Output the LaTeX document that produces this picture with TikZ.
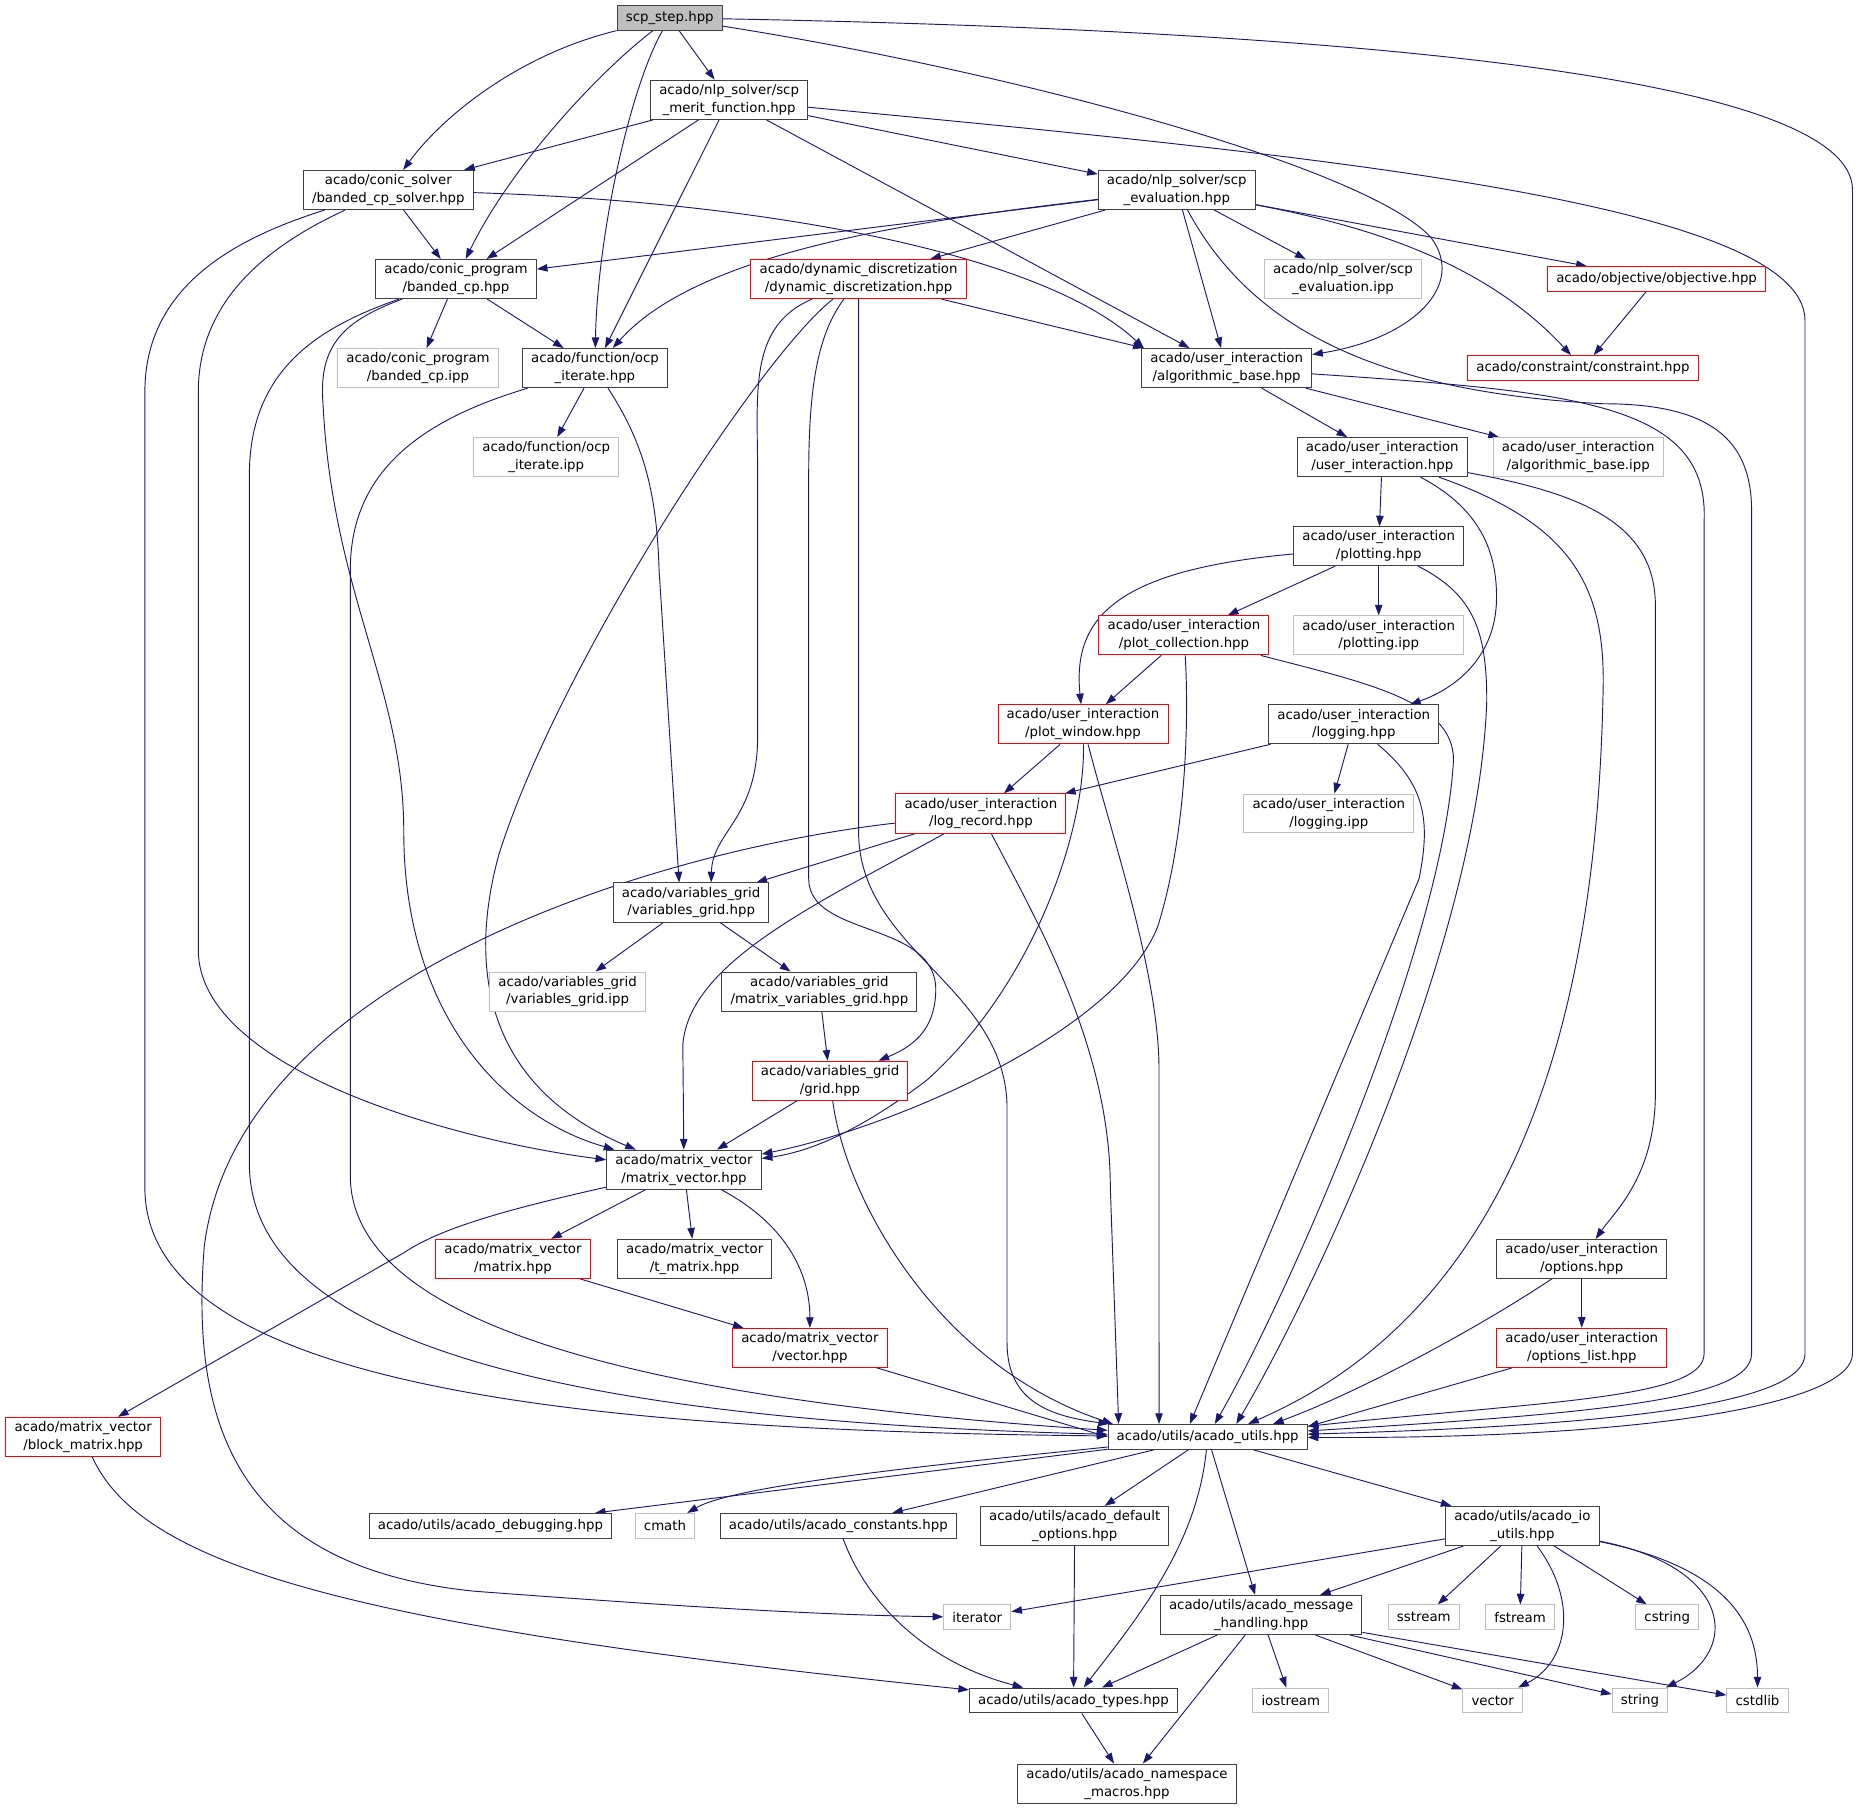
\documentclass[tikz,border=0pt]{standalone}
\usepackage{fontspec}
\setmainfont{DejaVu Sans}
\usetikzlibrary{arrows.meta}
\definecolor{edgeblue}{HTML}{191970}
\definecolor{boxdark}{HTML}{404040}
\definecolor{boxred}{HTML}{FF0000}
\definecolor{boxgrey}{HTML}{BFBFBF}
\pgfdeclarelayer{edges}
\pgfsetlayers{edges,main}

\begin{document}
\begin{tikzpicture}[x=0.890625pt, y=-0.890625pt,
  font=\fontsize{10}{13.4}\selectfont,
  hdr/.style={draw=boxdark, fill=white, line width=0.75pt, align=center,
    inner xsep=6.5pt, inner ysep=3pt, minimum height=18.7pt},
  hdrred/.style={hdr, draw=boxred},
  hdrgrey/.style={hdr, draw=boxgrey},
  hdrroot/.style={hdr, fill=boxgrey},
  dep/.style={draw=edgeblue, line width=0.7pt, -{Triangle[length=8pt, width=5.6pt]}}]
  \useasboundingbox (0,0) rectangle (1568,1523);
  \node[hdrroot] (step) at (564,15) {scp\_step.hpp};
  \node[hdr] (merit) at (614,84) {acado/nlp\_solver/scp\\\_merit\_function.hpp};
  \node[hdr] (cpsolver) at (327,160) {acado/conic\_solver\\/banded\_cp\_solver.hpp};
  \node[hdr] (eval) at (991,160) {acado/nlp\_solver/scp\\\_evaluation.hpp};
  \node[hdr] (bcp) at (384,235) {acado/conic\_program\\/banded\_cp.hpp};
  \node[hdrred] (dyndisc) at (723,235) {acado/dynamic\_discretization\\/dynamic\_discretization.hpp};
  \node[hdrgrey] (evalipp) at (1131,235) {acado/nlp\_solver/scp\\\_evaluation.ipp};
  \node[hdrred] (objective) at (1395,235) {acado/objective/objective.hpp};
  \node[hdrgrey] (bcpipp) at (352,310) {acado/conic\_program\\/banded\_cp.ipp};
  \node[hdr] (ocpit) at (501,310) {acado/function/ocp\\\_iterate.hpp};
  \node[hdr] (algbase) at (1033,310) {acado/user\_interaction\\/algorithmic\_base.hpp};
  \node[hdrred] (constraint) at (1333,310) {acado/constraint/constraint.hpp};
  \node[hdrgrey] (ocpitipp) at (460,385) {acado/function/ocp\\\_iterate.ipp};
  \node[hdr] (userint) at (1164,385) {acado/user\_interaction\\/user\_interaction.hpp};
  \node[hdrgrey] (algbaseipp) at (1329,385) {acado/user\_interaction\\/algorithmic\_base.ipp};
  \node[hdr] (plotting) at (1161,460) {acado/user\_interaction\\/plotting.hpp};
  \node[hdrred] (plotcoll) at (997,535) {acado/user\_interaction\\/plot\_collection.hpp};
  \node[hdrgrey] (plottingipp) at (1161,535) {acado/user\_interaction\\/plotting.ipp};
  \node[hdrred] (plotwin) at (912,610) {acado/user\_interaction\\/plot\_window.hpp};
  \node[hdr] (logging) at (1140,610) {acado/user\_interaction\\/logging.hpp};
  \node[hdrred] (logrec) at (826,685) {acado/user\_interaction\\/log\_record.hpp};
  \node[hdrgrey] (loggingipp) at (1119,685) {acado/user\_interaction\\/logging.ipp};
  \node[hdr] (vgrid) at (582,760) {acado/variables\_grid\\/variables\_grid.hpp};
  \node[hdrgrey] (vgridipp) at (478,835) {acado/variables\_grid\\/variables\_grid.ipp};
  \node[hdr] (mvgrid) at (690,835) {acado/variables\_grid\\/matrix\_variables\_grid.hpp};
  \node[hdrred] (grid) at (699,910) {acado/variables\_grid\\/grid.hpp};
  \node[hdr] (mvec) at (576,985) {acado/matrix\_vector\\/matrix\_vector.hpp};
  \node[hdrred] (matrix) at (432,1060) {acado/matrix\_vector\\/matrix.hpp};
  \node[hdr] (tmatrix) at (585,1060) {acado/matrix\_vector\\/t\_matrix.hpp};
  \node[hdr] (options) at (1332,1060) {acado/user\_interaction\\/options.hpp};
  \node[hdrred] (vector) at (682,1135) {acado/matrix\_vector\\/vector.hpp};
  \node[hdrred] (optlist) at (1332,1135) {acado/user\_interaction\\/options\_list.hpp};
  \node[hdrred] (blockmat) at (70,1210) {acado/matrix\_vector\\/block\_matrix.hpp};
  \node[hdr] (utils) at (1017,1210) {acado/utils/acado\_utils.hpp};
  \node[hdr] (debugging) at (413,1285) {acado/utils/acado\_debugging.hpp};
  \node[hdrgrey] (cmath) at (560,1285) {cmath};
  \node[hdr] (constants) at (706,1285) {acado/utils/acado\_constants.hpp};
  \node[hdr] (defopts) at (905,1285) {acado/utils/acado\_default\\\_options.hpp};
  \node[hdr] (ioutils) at (1282,1285) {acado/utils/acado\_io\\\_utils.hpp};
  \node[hdrgrey] (iterator) at (823,1362) {iterator};
  \node[hdr] (msghandle) at (1062,1360) {acado/utils/acado\_message\\\_handling.hpp};
  \node[hdrgrey] (sstream) at (1199,1362) {sstream};
  \node[hdrgrey] (fstream) at (1280,1362) {fstream};
  \node[hdrgrey] (cstring) at (1404,1362) {cstring};
  \node[hdr] (types) at (904,1432) {acado/utils/acado\_types.hpp};
  \node[hdrgrey] (iostream) at (1087,1432) {iostream};
  \node[hdrgrey] (stdvector) at (1257,1432) {vector};
  \node[hdrgrey] (stdstring) at (1381,1432) {string};
  \node[hdrgrey] (cstdlib) at (1480,1432) {cstdlib};
  \node[hdr] (nsmacros) at (949,1502) {acado/utils/acado\_namespace\\\_macros.hpp};
  \begin{pgfonlayer}{edges}
  \foreach \a/\b in {step/merit, merit/cpsolver, merit/bcp, merit/ocpit, merit/eval,
    merit/algbase, cpsolver/bcp, eval/bcp, eval/dyndisc, eval/evalipp, eval/objective,
    eval/algbase, bcp/bcpipp, bcp/ocpit, dyndisc/algbase, objective/constraint,
    ocpit/ocpitipp, algbase/userint, algbase/algbaseipp, userint/plotting,
    plotting/plotcoll, plotting/plottingipp, plotcoll/plotwin, plotwin/logrec,
    logging/logrec, logging/loggingipp, logrec/vgrid, vgrid/vgridipp, vgrid/mvgrid,
    mvgrid/grid, grid/mvec, mvec/matrix, mvec/tmatrix, matrix/vector, options/optlist,
    utils/debugging, utils/constants, utils/defopts, utils/ioutils, utils/msghandle,
    defopts/types, ioutils/iterator, ioutils/msghandle, ioutils/sstream, ioutils/fstream,
    ioutils/cstring, msghandle/types, msghandle/iostream, msghandle/stdvector,
    msghandle/stdstring, msghandle/cstdlib, msghandle/nsmacros, types/nsmacros}{%
    \draw[dep] (\a) -- (\b);}
  \draw[dep] (vector) -- (utils.west);
  \draw[dep] (options) .. controls (1250,1115) and (1150,1170) .. ([xshift=49pt]utils.north);
  \draw[dep] (optlist) -- ([yshift=-2pt]utils.north east);
  \draw[dep] (step) .. controls (440,45) and (375,95) .. (cpsolver);
  \draw[dep] (step) .. controls (505,60) and (430,140) .. (bcp);
  \draw[dep] (step) .. controls (530,75) and (503,200) .. (ocpit);
  \draw[dep] (step) .. controls (850,60) and (1150,140) .. (1205,200)
    .. controls (1235,240) and (1190,285) .. (algbase);
  \draw[dep] (step) .. controls (1100,25) and (1560,60) .. (1560,160)
    -- (1560,1140) .. controls (1560,1180) and (1400,1212) .. (utils);
  \draw[dep] (merit) .. controls (1100,130) and (1520,170) .. (1520,270)
    -- (1520,1140) .. controls (1520,1180) and (1380,1200) .. (utils);
  \draw[dep] (cpsolver) .. controls (650,170) and (880,215) .. ([xshift=2pt]algbase.north west);
  \draw[dep] (cpsolver) .. controls (230,205) and (167,250) .. (167,330)
    -- (167,800) .. controls (167,900) and (380,960) .. (mvec);
  \draw[dep] (cpsolver) .. controls (200,200) and (122,240) .. (122,330)
    -- (122,1000) .. controls (122,1170) and (500,1205) .. (utils);
  \draw[dep] (eval) .. controls (780,185) and (590,210) .. (ocpit);
  \draw[dep] (eval) .. controls (1150,190) and (1250,220) .. (constraint);
  \draw[dep] (eval) .. controls (1050,270) and (1150,330) .. (1350,340)
    .. controls (1440,340) and (1475,370) .. (1475,430)
    -- (1475,1140) .. controls (1475,1178) and (1350,1190) .. (utils);
  \draw[dep] (bcp) .. controls (290,270) and (268,290) .. (272,340)
    .. controls (280,500) and (340,580) .. (340,700)
    .. controls (340,850) and (420,940) .. (mvec);
  \draw[dep] (bcp) .. controls (270,275) and (210,310) .. (210,400)
    -- (210,980) .. controls (210,1150) and (550,1198) .. (utils);
  \draw[dep] (dyndisc) .. controls (640,300) and (470,560) .. (420,720)
    .. controls (390,830) and (420,920) .. (mvec);
  \draw[dep] (dyndisc) .. controls (630,275) and (638,330) .. (638,400)
    -- (638,620) .. controls (638,690) and (600,700) .. ([xshift=15pt]vgrid.north);
  \draw[dep] (dyndisc) .. controls (690,280) and (681,320) .. (681,400)
    -- (681,740) .. controls (681,790) and (790,775) .. (788,835)
    .. controls (787,865) and (772,880) .. (grid);
  \draw[dep] (dyndisc) -- (723,700) .. controls (723,800) and (845,830) .. (848,930)
    -- (848,1130) .. controls (848,1178) and (880,1192) .. (utils);
  \draw[dep] (ocpit) .. controls (540,370) and (553,410) .. (555,480)
    -- ([xshift=-9pt]vgrid.north);
  \draw[dep] (ocpit) .. controls (350,355) and (295,400) .. (295,480)
    -- (295,990) .. controls (295,1120) and (560,1180) .. (utils);
  \draw[dep] (algbase) .. controls (1330,330) and (1440,340) .. (1435,440)
    -- (1435,1140) .. controls (1435,1178) and (1300,1180) .. (utils);
  \draw[dep] (userint) .. controls (1250,430) and (1262,470) .. (1260,510)
    .. controls (1257,555) and (1225,580) .. (logging);
  \draw[dep] (userint) .. controls (1320,440) and (1352,490) .. (1350,580)
    .. controls (1345,850) and (1280,1100) .. ([xshift=30.3pt]utils.north);
  \draw[dep] (userint) .. controls (1330,415) and (1394,440) .. (1394,510)
    -- (1394,920) .. controls (1394,990) and (1360,1020) .. (options);
  \draw[dep] (plotting) .. controls (940,480) and (903,520) .. (plotwin);
  \draw[dep] (plotting) .. controls (1240,500) and (1252,530) .. (1252,590)
    .. controls (1245,800) and (1100,1100) .. ([xshift=21.4pt]utils.north);
  \draw[dep] (plotcoll) .. controls (1001,600) and (1000,700) .. (975,780)
    .. controls (940,870) and (750,950) .. (mvec);
  \draw[dep] (plotcoll) .. controls (1150,575) and (1224,590) .. (1224,640)
    .. controls (1215,800) and (1080,1100) .. ([xshift=5.3pt]utils.north);
  \draw[dep] (plotwin) .. controls (914,700) and (870,830) .. (780,910)
    .. controls (720,955) and (680,970) .. (mvec);
  \draw[dep] (plotwin) .. controls (935,700) and (976,820) .. (976,900)
    -- ([xshift=-36.5pt]utils.north);
  \draw[dep] (logging) .. controls (1200,660) and (1205,690) .. (1195,740)
    -- ([xshift=-13.4pt]utils.north);
  \draw[dep] (logrec) .. controls (690,760) and (580,810) .. (575,880) -- (mvec);
  \draw[dep] (logrec) .. controls (870,770) and (935,880) .. (935,1000)
    -- ([xshift=-66.8pt]utils.north);
  \draw[dep] (logrec) .. controls (560,715) and (200,820) .. (172,1050)
    .. controls (160,1200) and (200,1320) .. (400,1340)
    .. controls (600,1355) and (700,1360) .. (iterator);
  \draw[dep] (grid) .. controls (712,1010) and (790,1150) .. ([xshift=4pt]utils.north west);
  \draw[dep] (mvec) .. controls (660,1030) and (682,1070) .. (vector);
  \draw[dep] (mvec) .. controls (420,1020) and (370,1035) .. (340,1055) -- (blockmat);
  \draw[dep] (blockmat) .. controls (120,1320) and (300,1370) .. (types);
  \draw[dep] (utils) .. controls (800,1232) and (620,1250) .. (cmath);
  \draw[dep] (utils) .. controls (1008,1300) and (960,1360) .. (types);
  \draw[dep] (constants) .. controls (730,1350) and (780,1400) .. (types);
  \draw[dep] (ioutils) .. controls (1330,1350) and (1320,1400) .. (stdvector);
  \draw[dep] (ioutils) .. controls (1460,1320) and (1465,1390) .. (stdstring);
  \draw[dep] (ioutils) .. controls (1430,1315) and (1480,1350) .. (cstdlib);
  \end{pgfonlayer}
\end{tikzpicture}
\end{document}
